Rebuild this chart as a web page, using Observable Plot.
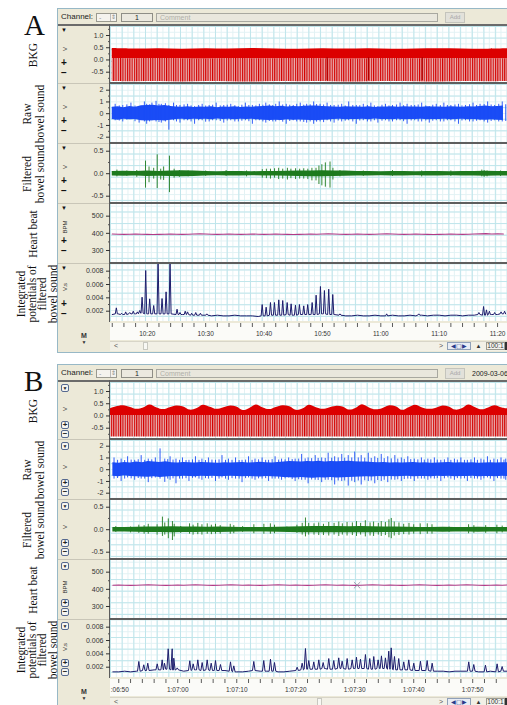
<!DOCTYPE html>
<html><head><meta charset="utf-8">
<script src="https://cdn.jsdelivr.net/npm/d3@7"></script>
<script src="https://cdn.jsdelivr.net/npm/@observablehq/plot@0.6"></script>
<style>
body{margin:0;width:507px;height:705px;overflow:hidden;background:#fff;position:relative;font-family:"Liberation Sans",Arial,sans-serif;}
#root{position:absolute;left:0;top:0;width:507px;height:705px;overflow:hidden}
.d{position:absolute;box-sizing:border-box}
.serif{font-family:"Liberation Serif","DejaVu Serif",serif;color:#111}
.rot{position:absolute;transform:translate(-50%,-50%) rotate(-90deg);white-space:nowrap;text-align:center}
.grid{background-color:#fff;
 background-image:linear-gradient(to right,#bfe5eb 1px,transparent 1px),linear-gradient(to bottom,#bfe5eb 1px,transparent 1px),linear-gradient(to right,#e2f2f4 1px,transparent 1px),linear-gradient(to bottom,#e2f2f4 1px,transparent 1px);
 background-size:11.68px 11.6px,11.68px 11.6px,5.84px 5.8px,5.84px 5.8px;}
.btn{position:absolute;width:8px;height:8px;border:1px solid #56698f;border-radius:2px;background:#f4f4f0;box-sizing:border-box;font-size:8px;line-height:6px;text-align:center;font-weight:bold;color:#222}
</style></head><body>
<svg width="0" height="0" style="position:absolute">
 <defs>
  <pattern id="ekgStripe" patternUnits="userSpaceOnUse" width="2.3" height="4">
   <rect width="2.3" height="4" fill="#e7b0b0"/>
   <rect width="1.1" height="4" fill="#d40000"/>
  </pattern>
 </defs>
</svg>
<div id="root"></div>
<script>
// ---------------- DATA ----------------
// Panel A: time in minutes after 10:00 ; Panel B: seconds after 1:07:00
const domainA = [13.7, 81.7];
const domainB = [-11.4, 55.9];
const timeTicksA = [20, 30, 40, 50, 60, 70, 80];
const timeLabelsA = ["10:20", "10:30", "10:40", "10:50", "11:00", "11:10", "11:20"];
const timeTicksB = [-10, 0, 10, 20, 30, 40, 50];
const timeLabelsB = [":06:50", "1:07:00", "1:07:10", "1:07:20", "1:07:30", "1:07:40", "1:07:50"];

const trackNames = ["BKG", "Raw|bowel sound", "Filtered|bowel sound", "Heart beat", "Integrated|potentials of|filtered|bowel sound"];
const unitLabels = ["V", "V", "V", "BPM", "V.s"];
const ekgTicks = [1.0, 0.5, 0.0, -0.5];
const rawTicks = [2, 1, 0, -1, -2];
const filtTicks = [0.5, 0.0, -0.5];
const hrTicks = [500, 400, 300];
const intTicks = [0.008, 0.006, 0.004, 0.002];
const ekgMinor = [1.25, 0.75, 0.25, -0.25, -0.75];
const rawMinor = [1.5, 0.5, -0.5, -1.5];
const filtMinor = [0.25, -0.25];
const hrMinor = [450, 350];
const intMinor = [0.007, 0.005, 0.003];

// EKG A envelopes (sampled every 4 min from 14)
const ekgTopA = [0.47,0.45,0.46,0.44,0.46,0.45,0.47,0.45,0.44,0.46,0.45,0.46,0.44,0.45,0.46,0.45,0.44,0.46];
const ekgMidA = [0.06,0.05,0.06,0.05,0.04,0.06,0.05,0.05,0.06,0.05,0.04,0.05,0.06,0.05,0.05,0.06,0.05,0.05];
const ekgLowA = [-0.88,-0.89,-0.88,-0.9,-0.88,-0.89,-0.9,-0.88,-0.89,-0.88,-0.9,-0.89,-0.88,-0.89,-0.9,-0.88,-0.89,-0.88];
const ekgDeepA = [50.8, 57.9, 67.1];

// EKG B envelopes (respiratory humps)
const ekgTopB_t = [-11.4,-10.5,-9.2,-8.0,-6.9,-5.8,-4.7,-3.5,-2.4,-1.3,-0.2,1.0,2.1,3.2,4.3,5.5,6.6,7.7,8.8,10.0,11.1,12.2,13.3,14.5,15.6,16.7,17.8,19.0,20.1,21.2,22.3,23.5,24.6,25.7,26.8,28.0,29.1,30.2,31.3,32.5,33.6,34.7,35.8,37.0,38.1,39.2,40.3,41.5,42.6,43.7,44.8,46.0,47.1,48.2,49.3,50.5,51.6,52.7,53.8,55.0,55.9];
const ekgTopB   = [0.30,0.37,0.42,0.35,0.27,0.33,0.45,0.33,0.26,0.34,0.41,0.37,0.24,0.29,0.44,0.36,0.27,0.33,0.40,0.37,0.22,0.31,0.45,0.33,0.26,0.35,0.42,0.38,0.23,0.28,0.44,0.34,0.27,0.33,0.39,0.37,0.24,0.31,0.46,0.33,0.25,0.30,0.41,0.38,0.23,0.34,0.44,0.33,0.27,0.31,0.40,0.37,0.24,0.29,0.45,0.34,0.25,0.33,0.42,0.33,0.29];
const ekgMidB = 0.02;
const ekgLowB = -0.86;

// Raw bowel sound A core band (every 1 min from 14)
const rawHiA = [0.55,0.6,0.5,0.62,0.55,0.68,0.7, 0.72,0.66,0.7,0.62,0.58,0.55,0.6, 0.52,0.58,0.55,0.6,0.5,0.57,0.55, 0.6,0.53,0.58,0.55,0.6,0.62,0.65, 0.6,0.64,0.58,0.62,0.6,0.63,0.65, 0.66,0.62,0.6,0.58,0.55,0.6,0.56, 0.58,0.55,0.6,0.52,0.58,0.56,0.6, 0.55,0.6,0.57,0.58,0.54,0.6,0.56, 0.58,0.55,0.6,0.57,0.55,0.6,0.58, 0.62,0.65,0.6,0.62,0.66];
const rawLoA = [-0.5,-0.55,-0.48,-0.52,-0.5,-0.6,-0.62, -0.6,-0.58,-0.62,-0.55,-0.5,-0.48,-0.52, -0.47,-0.5,-0.48,-0.52,-0.46,-0.5,-0.48, -0.52,-0.47,-0.5,-0.48,-0.52,-0.55,-0.58, -0.55,-0.57,-0.52,-0.55,-0.53,-0.56,-0.58, -0.6,-0.55,-0.53,-0.5,-0.48,-0.52,-0.5, -0.5,-0.48,-0.52,-0.46,-0.5,-0.49,-0.52, -0.48,-0.52,-0.5,-0.5,-0.47,-0.52,-0.49, -0.5,-0.48,-0.52,-0.5,-0.48,-0.52,-0.5, -0.54,-0.56,-0.52,-0.55,-0.58];
// spikes: [time, top, bottom]
const rawSpikesA = [[14.5,0.8,-0.6],[15.2,0.66,-0.62],[15.8,0.7,-0.7],[16.5,0.75,-0.55],[17.2,0.9,-0.5],[17.9,0.65,-0.68],[18.6,0.6,-0.8],[19.5,1.0,-0.7],[19.9,0.8,-0.9],[20.4,0.75,-0.7],[20.8,0.9,-0.6],[21.5,1.05,-0.7],[22.0,0.8,-0.75],[22.4,0.8,-0.8],[23.1,0.85,-0.7],[23.7,0.7,-1.4],[24.5,0.9,-0.6],[25.0,0.7,-0.7],[25.6,0.7,-0.8],[26.3,0.75,-0.6],[26.9,0.8,-0.6],[27.5,0.66,-0.7],[28.1,0.6,-0.9],[28.8,0.7,-0.6],[29.4,0.8,-0.6],[30.0,0.65,-0.72],[30.6,0.7,-0.7],[31.2,0.72,-0.6],[31.8,0.9,-0.6],[32.5,0.66,-0.66],[33.1,0.7,-0.8],[33.7,0.72,-0.62],[34.3,0.8,-0.6],[35.0,0.68,-0.7],[35.6,0.6,-0.7],[36.2,0.72,-0.64],[36.8,0.9,-0.6],[37.4,0.7,-0.68],[38.0,0.7,-0.9],[38.6,0.66,-0.6],[39.2,0.8,-0.6],[39.8,0.72,-0.7],[40.3,0.9,-0.8],[40.9,0.75,-0.66],[41.5,0.7,-0.7],[42.0,0.8,-0.7],[42.6,1.0,-0.6],[43.2,0.74,-0.72],[43.8,0.8,-0.9],[44.4,0.72,-0.66],[45.0,0.7,-0.6],[45.6,0.8,-0.7],[46.2,0.9,-0.7],[46.8,0.72,-0.74],[47.3,0.8,-0.8],[47.9,0.76,-0.7],[48.5,1.0,-0.9],[49.0,0.78,-0.72],[49.6,0.8,-0.7],[50.2,0.74,-0.76],[50.8,0.9,-0.6],[51.4,0.7,-0.7],[52.0,0.7,-0.8],[52.7,0.72,-0.62],[53.3,0.8,-0.7],[53.9,0.66,-0.64],[54.5,1.0,-0.6],[55.2,0.7,-0.7],[55.8,0.7,-0.9],[56.4,0.68,-0.62],[57.0,0.8,-0.6],[57.7,0.7,-0.7],[58.3,0.9,-0.7],[58.9,0.66,-0.6],[59.5,0.6,-0.8],[60.2,0.72,-0.64],[60.8,0.8,-0.6],[61.4,0.66,-0.7],[62.0,0.7,-0.7],[62.7,0.74,-0.6],[63.3,0.9,-0.6],[63.9,0.68,-0.68],[64.5,0.8,-0.9],[65.2,0.7,-0.62],[65.8,0.7,-0.6],[66.4,0.74,-0.7],[67.0,0.9,-0.7],[67.7,0.66,-0.62],[68.3,0.6,-0.8],[68.9,0.72,-0.64],[69.5,0.8,-0.6],[70.2,0.68,-0.7],[70.8,0.9,-0.7],[71.4,0.7,-0.6],[72.0,0.7,-0.6],[72.7,0.74,-0.7],[73.3,0.8,-0.9],[73.9,0.66,-0.62],[74.5,0.7,-0.6],[75.2,0.76,-0.7],[75.8,0.9,-0.7],[76.4,0.7,-0.64],[77.0,0.8,-0.6],[77.7,0.78,-0.7],[78.3,1.0,-0.8],[78.9,0.74,-0.66],[79.5,0.7,-0.6],[80.2,0.8,-0.7],[80.8,1.0,-0.7],[81.4,0.76,-0.66]];

// Raw bowel sound B core band (every 1 s from -11)
const rawHiB = [0.6,0.55,0.62,0.58,0.65,0.6,0.7,0.66,0.62,0.68, 0.6,0.58,0.62,0.6,0.57,0.62,0.6,0.58,0.55,0.6, 0.57,0.6,0.62,0.58,0.6,0.63,0.6,0.58,0.62,0.65, 0.7,0.68,0.66,0.7,0.68,0.72,0.66,0.7,0.68,0.7, 0.72,0.68,0.65,0.66,0.62,0.6,0.62,0.58,0.6,0.57, 0.6,0.62,0.58,0.6,0.55,0.58,0.6,0.62,0.58,0.6, 0.57,0.6,0.55,0.58,0.6,0.57,0.6,0.58];
const rawLoB = [-0.55,-0.6,-0.52,-0.58,-0.6,-0.62,-0.65,-0.6,-0.66,-0.62, -0.58,-0.6,-0.55,-0.58,-0.6,-0.56,-0.58,-0.55,-0.6,-0.57, -0.55,-0.58,-0.6,-0.57,-0.6,-0.62,-0.58,-0.6,-0.63,-0.66, -0.68,-0.7,-0.66,-0.7,-0.72,-0.68,-0.7,-0.66,-0.7,-0.68, -0.66,-0.65,-0.62,-0.6,-0.62,-0.58,-0.6,-0.57,-0.6,-0.58, -0.55,-0.6,-0.57,-0.58,-0.6,-0.56,-0.58,-0.55,-0.6,-0.57, -0.58,-0.55,-0.6,-0.57,-0.58,-0.6,-0.56,-0.58];
const rawSpikesB = [[-10.8,1.0,-0.8],[-10.2,0.8,-0.75],[-9.6,0.9,-1.0],[-9.0,0.78,-0.8],[-8.5,1.1,-0.7],[-7.9,0.82,-0.78],[-7.3,0.8,-0.9],[-6.7,0.85,-0.75],[-6.2,1.2,-0.8],[-5.6,0.8,-0.8],[-5.0,0.9,-1.1],[-4.4,0.84,-0.76],[-3.8,1.0,-0.7],[-3.0,1.77,-0.8],[-2.2,0.9,-1.08],[-1.7,0.86,-0.8],[-1.3,1.1,-0.9],[-0.8,0.82,-0.78],[-0.3,0.9,-1.2],[0.3,0.8,-0.8],[0.8,1.0,-0.8],[1.4,0.78,-0.76],[1.9,0.8,-1.0],[2.5,0.84,-0.74],[3.0,1.1,-0.7],[3.6,0.8,-0.8],[4.1,0.9,-0.9],[4.7,0.78,-0.76],[5.2,1.0,-0.8],[5.8,0.82,-0.74],[6.4,0.8,-1.0],[7.0,0.84,-0.8],[7.5,1.2,-0.7],[8.1,0.8,-0.8],[8.6,0.9,-0.9],[9.2,0.8,-0.76],[9.8,1.0,-0.8],[10.4,0.78,-0.8],[10.9,0.8,-1.1],[11.5,0.82,-0.76],[12.0,1.1,-0.7],[12.6,0.8,-0.8],[13.1,0.9,-0.9],[13.7,0.84,-0.78],[14.3,1.0,-0.8],[14.9,0.8,-0.76],[15.4,0.8,-1.0],[16.0,0.86,-0.8],[16.5,1.1,-0.8],[17.1,0.82,-0.8],[17.6,0.9,-0.9],[18.2,0.84,-0.78],[18.8,1.0,-0.7],[19.4,0.86,-0.84],[19.9,0.9,-1.0],[20.5,0.9,-0.86],[21.0,1.3,-0.9],[21.6,0.92,-0.9],[22.1,1.0,-1.2],[22.7,0.94,-0.88],[23.3,1.2,-0.9],[23.8,0.96,-0.92],[24.4,1.0,-1.1],[25.0,0.96,-0.9],[25.5,1.4,-0.9],[26.1,0.98,-0.94],[26.6,1.1,-1.3],[27.2,1.0,-0.96],[27.8,1.3,-1.0],[28.3,0.98,-0.96],[28.9,1.2,-1.4],[29.5,1.0,-0.98],[30.0,1.5,-1.1],[30.6,1.0,-0.96],[31.1,1.2,-1.3],[31.7,0.98,-0.94],[32.3,1.4,-1.0],[32.8,0.96,-0.96],[33.4,1.1,-1.2],[33.9,0.96,-0.92],[34.5,1.3,-1.0],[35.0,0.94,-0.9],[35.6,1.1,-1.1],[36.2,0.92,-0.88],[36.8,1.2,-0.9],[37.3,0.9,-0.86],[37.9,1.0,-1.0],[38.4,0.88,-0.84],[39.0,1.1,-0.8],[39.5,0.86,-0.82],[40.1,0.9,-1.0],[40.7,0.84,-0.8],[41.3,1.0,-0.8],[41.8,0.82,-0.8],[42.4,0.9,-0.9],[42.9,0.84,-0.78],[43.5,1.0,-0.8],[44.0,0.82,-0.76],[44.6,0.8,-1.0],[45.2,0.84,-0.78],[45.8,1.0,-0.7],[46.3,0.8,-0.8],[46.9,0.9,-0.9],[47.4,0.82,-0.76],[48.0,1.0,-0.8],[48.6,0.8,-0.78],[49.1,0.8,-1.0],[49.7,0.84,-0.76],[50.3,1.0,-0.8],[50.8,0.8,-0.8],[51.4,0.9,-0.9],[51.9,0.82,-0.78],[52.5,1.1,-0.7],[53.0,0.8,-0.8],[53.6,0.9,-1.0],[54.2,0.84,-0.76],[54.8,1.0,-0.8],[55.3,0.82,-0.8],[55.6,0.9,-0.9]];

// Filtered bowel sound core band (every 2 min from 14 / every 2 s from -11)
const filtHiA = [0.05,0.055,0.05,0.06,0.05,0.06,0.065,0.06,0.05,0.045,0.05,0.05,0.045,0.05,0.05,0.055,0.06,0.06,0.065,0.06,0.06,0.05,0.05,0.045,0.05,0.05,0.045,0.05,0.05,0.045,0.05,0.05,0.055,0.05,0.05];
const filtLoA = [-0.05,-0.055,-0.05,-0.06,-0.055,-0.06,-0.065,-0.06,-0.05,-0.045,-0.05,-0.05,-0.045,-0.05,-0.05,-0.055,-0.06,-0.065,-0.065,-0.06,-0.055,-0.05,-0.05,-0.045,-0.05,-0.05,-0.045,-0.05,-0.05,-0.045,-0.05,-0.05,-0.055,-0.05,-0.05];
const filtSpikesA = [[14.8,0.08,-0.07],[16.5,0.06,-0.06],[18.2,0.07,-0.08],[19.7,0.28,-0.32],[20.3,0.15,-0.2],[21.1,0.12,-0.12],[21.7,0.42,-0.33],[22.3,0.1,-0.14],[22.8,0.15,-0.15],[23.8,0.39,-0.42],[24.6,0.1,-0.1],[25.5,0.07,-0.08],[27.0,0.06,-0.07],[30.0,0.06,-0.06],[33.5,0.07,-0.06],[37.0,0.06,-0.07],[39.7,0.09,-0.1],[40.4,0.1,-0.11],[41.1,0.1,-0.12],[41.8,0.11,-0.1],[42.5,0.12,-0.13],[43.2,0.1,-0.12],[44.0,0.12,-0.14],[44.6,0.1,-0.11],[45.4,0.11,-0.13],[46.1,0.1,-0.12],[46.8,0.11,-0.12],[47.5,0.1,-0.13],[48.2,0.12,-0.16],[48.9,0.12,-0.16],[49.4,0.17,-0.24],[49.9,0.2,-0.27],[50.5,0.24,-0.3],[51.3,0.26,-0.32],[51.8,0.12,-0.14],[53.0,0.07,-0.07],[57.0,0.06,-0.06],[62.0,0.07,-0.06],[67.0,0.06,-0.07],[72.0,0.06,-0.06],[77.3,0.08,-0.07],[77.7,0.07,-0.08],[78.2,0.06,-0.07],[80.5,0.06,-0.06]];
const filtHiB = [0.05,0.05,0.055,0.06,0.06,0.065,0.06,0.06,0.055,0.06,0.055,0.05,0.05,0.05,0.055,0.06,0.065,0.07,0.07,0.07,0.065,0.07,0.065,0.06,0.06,0.055,0.05,0.05,0.055,0.05,0.05,0.055,0.05,0.05,0.05];
const filtLoB = [-0.05,-0.05,-0.055,-0.06,-0.06,-0.065,-0.06,-0.06,-0.055,-0.06,-0.055,-0.05,-0.05,-0.05,-0.055,-0.06,-0.065,-0.07,-0.07,-0.07,-0.065,-0.07,-0.065,-0.06,-0.06,-0.055,-0.05,-0.05,-0.055,-0.05,-0.05,-0.055,-0.05,-0.05,-0.05];
const filtSpikesB = [[-10.5,0.07,-0.06],[-8.0,0.06,-0.07],[-6.6,0.1,-0.08],[-5.7,0.09,-0.1],[-5.0,0.12,-0.1],[-3.5,0.11,-0.12],[-2.6,0.28,-0.15],[-2.2,0.15,-0.12],[-1.6,0.24,-0.2],[-0.9,0.18,-0.24],[-0.6,0.12,-0.16],[0.5,0.07,-0.08],[2.0,0.13,-0.1],[2.6,0.1,-0.12],[3.4,0.14,-0.11],[4.1,0.11,-0.12],[5.0,0.13,-0.1],[5.7,0.1,-0.11],[6.4,0.12,-0.1],[7.2,0.09,-0.1],[8.9,0.12,-0.1],[9.5,0.09,-0.09],[11.0,0.07,-0.06],[12.9,0.11,-0.09],[14.6,0.12,-0.1],[15.7,0.13,-0.1],[16.4,0.1,-0.09],[18.5,0.06,-0.06],[20.2,0.1,-0.08],[21.1,0.14,-0.12],[21.65,0.26,-0.16],[22.2,0.14,-0.12],[23.1,0.13,-0.12],[23.9,0.15,-0.13],[24.7,0.12,-0.13],[25.6,0.16,-0.14],[26.5,0.14,-0.12],[27.3,0.17,-0.15],[27.9,0.13,-0.12],[28.7,0.16,-0.14],[29.6,0.15,-0.13],[30.3,0.18,-0.15],[31.0,0.14,-0.12],[31.8,0.2,-0.16],[32.6,0.15,-0.14],[33.2,0.17,-0.15],[34.0,0.14,-0.12],[34.5,0.18,-0.15],[35.2,0.16,-0.13],[35.8,0.22,-0.18],[36.2,0.25,-0.2],[36.7,0.17,-0.14],[37.5,0.15,-0.13],[38.3,0.12,-0.11],[39.2,0.14,-0.12],[40.0,0.11,-0.1],[41.1,0.13,-0.11],[42.3,0.13,-0.1],[43.1,0.11,-0.1],[46.0,0.06,-0.06],[49.3,0.11,-0.09],[50.2,0.09,-0.08],[52.2,0.09,-0.08],[54.1,0.1,-0.09],[55.0,0.08,-0.07]];

// Heart rate (BPM), every 1 min from 14 (A) / every 1 s from -11 (B)
const hrA = [396,395,394,395,396,395,394,393,394,395,396,395,394,395,396,397,396,395,394,395,396,395,394,395,396,395,394,395,396,395,394,393,394,395,396,395,396,397,396,395,394,395,396,395,394,395,396,397,396,395,394,395,396,395,394,393,394,395,396,395,394,395,396,397,398,396,397,396];
const hrB = [424,425,424,423,424,425,426,425,424,423, 424,425,424,425,426,425,424,423,424,425, 426,425,424,425,424,423,424,425,426,425, 424,425,424,423,424,425,426,425,424,425, 424,423,424,425,426,425,424,425,424,423, 424,425,426,425,424,423,424,425,424,425, 426,425,424,423,424,425,424,425];
const cursorB = [30.4, 424];

// Integrated potentials: baseline + peaks [time, value]
const intBaseA = [0.0015,0.0016,0.0015,0.0016,0.0016,0.0017,0.0016, 0.0016,0.0016,0.0016,0.0016,0.0015,0.0015,0.0015, 0.0014,0.0014,0.0014,0.0013,0.0014,0.0013,0.0013, 0.0014,0.0013,0.0013,0.0013,0.0012,0.0013,0.0014, 0.0014,0.0014,0.0015,0.0014,0.0015,0.0015,0.0015, 0.0015,0.0016,0.0015,0.0015,0.0014,0.0013,0.0013, 0.0014,0.0013,0.0013,0.0014,0.0013,0.0013,0.0014, 0.0013,0.0013,0.0014,0.0013,0.0014,0.0013,0.0014, 0.0014,0.0013,0.0014,0.0014,0.0013,0.0014,0.0014, 0.0015,0.0014,0.0015,0.0015,0.0016];
const intPeaksA = [[14.7,0.0025],[15.6,0.0017],[16.3,0.0019],[17.0,0.0018],[17.6,0.002],[18.3,0.0019],[18.7,0.0021],[19.11,0.0041],[19.73,0.0081],[20.41,0.00385],[21.1,0.00285],[21.85,0.0095],[22.53,0.0039],[23.22,0.0049],[23.9,0.0095],[25.1,0.0023],[25.6,0.0018],[26.5,0.002],[26.9,0.0019],[27.6,0.0017],[28.3,0.0018],[29.1,0.0017],[30.2,0.0016],[39.68,0.003],[40.36,0.0026],[41.1,0.0033],[41.78,0.0033],[42.52,0.0037],[43.2,0.0036],[43.96,0.0033],[44.64,0.0031],[45.38,0.0029],[46.06,0.003],[46.8,0.0028],[47.48,0.003],[48.24,0.0033],[48.92,0.0044],[49.66,0.0057],[50.34,0.0051],[51.08,0.0053],[51.77,0.0045],[53.0,0.0016],[61.0,0.0016],[66.5,0.0016],[76.8,0.0018],[77.6,0.0027],[78.1,0.0022],[78.6,0.002],[79.5,0.0018],[80.6,0.0019],[81.2,0.002]];
const intBaseB = [0.0013,0.0013,0.0014,0.0013,0.0014,0.0015,0.0015, 0.0016,0.0016,0.0017,0.0016,0.0016,0.0014,0.0015, 0.0016,0.0015,0.0016,0.0015,0.0015,0.0015,0.0014, 0.0013,0.0013,0.0014,0.0015,0.0014,0.0014,0.0014, 0.0013,0.0013,0.0014,0.0015,0.0016,0.0017,0.0017, 0.0017,0.0018,0.0017,0.0018,0.0018,0.0017,0.0018, 0.0018,0.0018,0.0017,0.0018,0.0018,0.0017,0.0016, 0.0016,0.0016,0.0015,0.0015,0.0015,0.0014,0.0014, 0.0014,0.0013,0.0014,0.0014,0.0014,0.0014,0.0013, 0.0013,0.0014,0.0013,0.0014,0.0014];
const intPeaksB = [[-6.6,0.00286],[-5.76,0.00236],[-5.08,0.0026],[-3.48,0.0025],[-2.64,0.0031],[-2.25,0.0026],[-1.62,0.00476],[-0.94,0.00476],[-0.67,0.00335],[-0.09,0.0019],[2.04,0.00296],[2.62,0.0025],[3.4,0.0031],[4.14,0.0027],[4.99,0.0031],[5.67,0.0026],[6.4,0.003],[7.24,0.0024],[8.94,0.0028],[9.5,0.0022],[12.89,0.00286],[14.58,0.003],[15.72,0.0032],[16.4,0.0027],[20.24,0.002],[21.09,0.0026],[21.65,0.0048],[22.21,0.003],[23.06,0.0028],[23.91,0.0031],[24.65,0.0027],[25.6,0.0033],[26.45,0.003],[27.29,0.0034],[27.87,0.0029],[28.72,0.0033],[29.57,0.0031],[30.29,0.0035],[30.97,0.0032],[31.82,0.0039],[32.55,0.0033],[33.23,0.0036],[33.97,0.0031],[34.53,0.0037],[35.21,0.0034],[35.77,0.0044],[36.18,0.0049],[36.74,0.0036],[37.46,0.0033],[38.31,0.0028],[39.16,0.0031],[40.01,0.0026],[41.14,0.0029],[42.28,0.003],[43.13,0.0026],[49.33,0.0028],[50.18,0.0024],[52.16,0.0023],[54.14,0.0025],[54.99,0.0021]];

// ---------------- helpers ----------------
const root = document.getElementById("root");
const UI = "'Liberation Sans', Arial, sans-serif";
function div(x, y, w, h, css = "", html = "", cls = "d") {
  const e = document.createElement("div");
  e.className = cls;
  e.style.cssText = `left:${x}px;top:${y}px;width:${w}px;height:${h}px;${css}`;
  e.innerHTML = html;
  root.appendChild(e);
  return e;
}
function rotText(cx, cy, html, css) {
  const e = document.createElement("div");
  e.className = "rot " + (css.cls || "");
  e.style.cssText = `left:${cx}px;top:${cy}px;${css.style || ""}`;
  e.innerHTML = html;
  root.appendChild(e);
}
function series(t0, step, vals) { return vals.map((v, i) => ({t: t0 + i * step, v})); }
function band(t0, step, hi, lo) { return hi.map((h, i) => ({t: t0 + i * step, hi: h, lo: lo[i]})); }
function spikes(arr) { return arr.map(([t, hi, lo]) => ({t, hi, lo})); }
function integ(t0, step, base, peaks, w) {
  const pts = base.map((v, i) => ({t: t0 + i * step, v}))
    .filter(p => !peaks.some(([t]) => Math.abs(p.t - t) < w * 1.1));
  for (const [t, v] of peaks) {
    const b = base[Math.max(0, Math.min(base.length - 1, Math.round((t - t0) / step)))];
    pts.push({t: t - w, v: b}, {t, v}, {t: t + w, v: b});
  }
  return pts.sort((a, b) => a.t - b.t);
}

const trackTopsA = [26, 84, 144, 204, 264];
const trackBotsA = [82, 142, 202, 262, 321];
const yDomains = [[-0.921, 1.368], [-2.451, 2.485], [-0.64, 0.649], [230, 568], [0.000455, 0.009]];
const yTicks = [ekgTicks, rawTicks, filtTicks, hrTicks, intTicks];
const yMinor = [ekgMinor, rawMinor, filtMinor, hrMinor, intMinor];
const yFmt = [d => d.toFixed(1), d => String(d), d => d.toFixed(1), d => String(d), d => d.toFixed(3)];

function trackPlot(top, h, xd, i, marks) {
  const hasAxis = typeof Plot.axisY === "function";
  const axes = hasAxis ? [
    Plot.axisY(yTicks[i], {tickSize: 4, tickPadding: 3, tickFormat: yFmt[i], fontSize: 7, fill: "#333", stroke: "#333"}),
    Plot.axisY(yMinor[i], {tickSize: 2, tickFormat: () => "", stroke: "#555"})
  ] : [];
  const p = Plot.plot({
    width: 449, height: h, marginLeft: 52, marginRight: 0, marginTop: 0, marginBottom: 0,
    x: {domain: xd, axis: null},
    y: {domain: yDomains[i], ticks: yTicks[i], tickSize: 4, tickPadding: 3, tickFormat: yFmt[i], label: null},
    style: {background: "none", fontSize: "7px", fontFamily: UI, color: "#333"},
    marks: [...marks, ...axes]
  });
  p.style.position = "absolute"; p.style.left = "58px"; p.style.top = top + "px";
  root.appendChild(p);
}

function panel(letter, dy, xd, isB) {
  const ekgTbl = isB
    ? ekgTopB_t.map((t, i) => ({t, top: ekgTopB[i], mid: ekgMidB, low: ekgLowB}))
    : ekgTopA.map((v, i) => ({t: 14 + i * 4, top: v, mid: ekgMidA[i], low: ekgLowA[i]}));
  const raw = isB ? band(-11, 1, rawHiB, rawLoB) : band(14, 1, rawHiA, rawLoA);
  const rawS = spikes(isB ? rawSpikesB : rawSpikesA);
  const filt = isB ? band(-11, 2, filtHiB, filtLoB) : band(14, 2, filtHiA, filtLoA);
  const filtS = spikes(isB ? filtSpikesB : filtSpikesA);
  const hr = isB ? series(-11, 1, hrB) : series(14, 1, hrA);
  const ig = isB ? integ(-11, 1, intBaseB, intPeaksB, 0.22) : integ(14, 1, intBaseA, intPeaksA, 0.18);

  // window
  div(57, 8 + dy, 460, 345, "background:#ece9d8;border:1px solid #97b8c6;");
  // header
  div(61, 12 + dy, 40, 10, `font:8px ${UI};color:#222;line-height:10px`, "Channel:");
  div(96, 12.5 + dy, 21, 9, "border:1px solid #9a9a90;background:#f4f3ee", `<div class="d" style="left:13px;top:0;width:6px;height:7px;border-left:1px solid #bbb;font:6px ${UI};color:#888;line-height:7px;text-align:center">&#8661;</div><div class="d" style="left:2px;top:0;font:7px ${UI};color:#999;line-height:7px">-</div>`);
  div(121, 13 + dy, 32, 8.5, `border:1px solid #8e8e86;background:#ebe9df;font:7px ${UI};line-height:7px;text-align:center;color:#222`, "1");
  div(156, 13 + dy, 282, 8.5, `border:1px solid #a8a8a0;background:#e9e7dd;font:7px ${UI};line-height:7px;color:#b0b0a8;padding-left:3px`, "Comment");
  div(445, 12 + dy, 20, 11, `border:1px solid #c4c4bc;background:#e2e1da;font:6px ${UI};line-height:9px;text-align:center;color:#a8a8a8`, "Add");
  if (isB) div(472, 12.5 + dy, 40, 10, `font:7px ${UI};line-height:10px;color:#222`, "2009-03-06");
  // plot area + grid
  div(110, 26 + dy, 397, 295, "", "", "d grid");
  div(58, 24 + dy, 449, 2, "background:#6b6b6b");
  div(109, 24 + dy, 1.2, 298, "background:#5c5c5c");

  for (let i = 0; i < 5; i++) {
    const top = trackTopsA[i] + dy, bot = trackBotsA[i] + dy;
    if (i < 4) { div(110, bot, 397, 2, "background:#5e5e5e"); div(58, bot + 0.5, 51, 1, "background:#c9c6b8"); }
    // control glyphs
    if (!isB) {
      div(61, top + 1, 7, 7, `font:6px ${UI};line-height:7px;color:#111`, "&#9660;");
      div(61, top + 32 + (i == 4 ? 3 : 0), 8, 9, `font:bold 10px ${UI};line-height:9px;color:#111`, "+");
      div(61, top + 42 + (i == 4 ? 3 : 0), 8, 9, `font:bold 10px ${UI};line-height:9px;color:#111`, "&#8722;");
    } else {
      div(61, top + 2, 8, 8, "", "&#9660;", "btn").style.fontSize = "5px";
      div(61, top + 39, 8, 8, "", "+", "btn");
      div(61, top + 47.5, 8, 8, "", "&#8722;", "btn");
    }
    rotText(64.5, top + (isB ? 27 : 23), unitLabels[i], {style: `font:6px ${UI};color:#333`});
    // left labels
    const lines = trackNames[i].split("|");
    rotText(i == 4 ? 37 : 33, (top + bot) / 2 + 1, lines.join("<br>"), {cls: "serif", style: `font-size:11.5px;line-height:${i == 4 ? 10.5 : 12.5}px;font-family:'Liberation Serif',serif`});
  }

  const C = {clip: true};
  trackPlot(trackTopsA[0] + dy, trackBotsA[0] - trackTopsA[0], xd, 0, [
    Plot.areaY(ekgTbl, {x: "t", y1: "low", y2: "mid", fill: "url(#ekgStripe)", curve: "catmull-rom", ...C}),
    Plot.areaY(ekgTbl, {x: "t", y1: "mid", y2: "top", fill: "#dc0000", curve: "catmull-rom", ...C}),
    Plot.ruleX(isB ? [] : ekgDeepA, {x: d => d, y1: -0.85, y2: 0.1, stroke: "#b00000", strokeWidth: 1.2, ...C})
  ]);
  trackPlot(trackTopsA[1] + dy, trackBotsA[1] - trackTopsA[1], xd, 1, [
    Plot.areaY(raw, {x: "t", y1: "lo", y2: "hi", fill: "#1a4cf6", ...C}),
    Plot.ruleX(rawS, {x: "t", y1: "lo", y2: "hi", stroke: "#1a4cf6", strokeWidth: 0.9, ...C})
  ]);
  trackPlot(trackTopsA[2] + dy, trackBotsA[2] - trackTopsA[2], xd, 2, [
    Plot.areaY(filt, {x: "t", y1: "lo", y2: "hi", fill: "#1e7a1e", ...C}),
    Plot.ruleX(filtS, {x: "t", y1: "lo", y2: "hi", stroke: "#1e7a1e", strokeWidth: 0.9, ...C})
  ]);
  trackPlot(trackTopsA[3] + dy, trackBotsA[3] - trackTopsA[3], xd, 3, [
    Plot.line(hr, {x: "t", y: "v", stroke: "#b23a86", strokeWidth: 1.1, ...C}),
    Plot.dot(isB ? [cursorB] : [], {x: d => d[0], y: d => d[1], symbol: "times", r: 3, stroke: "#8a8a9a", strokeWidth: 0.8})
  ]);
  trackPlot(trackTopsA[4] + dy, trackBotsA[4] - trackTopsA[4], xd, 4, [
    Plot.line(ig, {x: "t", y: "v", stroke: "#1c1c6c", strokeWidth: 1, ...C})
  ]);

  // time axis
  const ax = div(110, 323 + dy, 397, 17, "overflow:hidden;background:#fbfbf8");
  const ticks = isB ? d3.range(-10, 56, 2) : d3.range(14, 82, 2);
  const labels = (isB ? timeTicksB : timeTicksA).map((t, i) => ({t, s: (isB ? timeLabelsB : timeLabelsA)[i]}));
  const first = isB ? labels.slice(0, 1) : [];
  const rest = isB ? labels.slice(1) : labels;
  const axp = Plot.plot({
    width: 397, height: 17, marginLeft: 0, marginRight: 0, marginTop: 0, marginBottom: 13,
    x: {domain: xd, axis: null},
    style: {background: "none"},
    marks: [
      Plot.tickX(ticks, {x: d => d, stroke: "#333", strokeWidth: 0.8}),
      Plot.text(rest, {x: "t", text: "s", frameAnchor: "bottom", dy: 8, fontSize: 6.5, fontFamily: UI, fill: "#333"}),
      Plot.text(first, {x: "t", text: "s", frameAnchor: "bottom", dy: 8, dx: -8, textAnchor: "start", fontSize: 6.5, fontFamily: UI, fill: "#333"})
    ]
  });
  ax.appendChild(axp);
  div(80, 333 + dy, 8, 9, `font:bold 7px ${UI};line-height:6px;color:#333;text-align:center`, "M<br><span style='font-size:5px'>&#9660;</span>");
  // scrollbar
  div(110, 341 + dy, 397, 10, `background:#f2f0e6;border-top:1px solid #d8d5c8`);
  div(114, 341 + dy, 8, 10, `font:7px ${UI};line-height:10px;color:#555`, "&lt;");
  div(isB ? 317 : 143, 342 + dy, 5, 8, "background:#f8f8f4;border:1px solid #c8c8c0");
  div(439, 341 + dy, 8, 10, `font:7px ${UI};line-height:10px;color:#555`, "&gt;");
  div(447, 342 + dy, 24, 8, `border:1px solid #8fa0b8;background:#e8ecf4;font:6px ${UI};line-height:6px;text-align:center;color:#2a3a8a`, "&#9664;&#9634;&#9654;");
  div(474, 342 + dy, 9, 8, `font:6px ${UI};line-height:8px;text-align:center;color:#333`, "&#9650;");
  div(486, 342 + dy, 19, 8, `border:1px solid #9a9a90;background:#f4f3ee;font:6.5px ${UI};line-height:6px;text-align:center;color:#333`, "100:1");
  div(505, 342 + dy, 4, 8, `background:#333`);
  // panel letter
  div(24, 10 + dy, 30, 30, "font:29px 'Liberation Serif',serif;line-height:30px;color:#111", letter);
}

panel("A", 0, domainA, false);
panel("B", 356, domainB, true);
</script>
</body></html>
